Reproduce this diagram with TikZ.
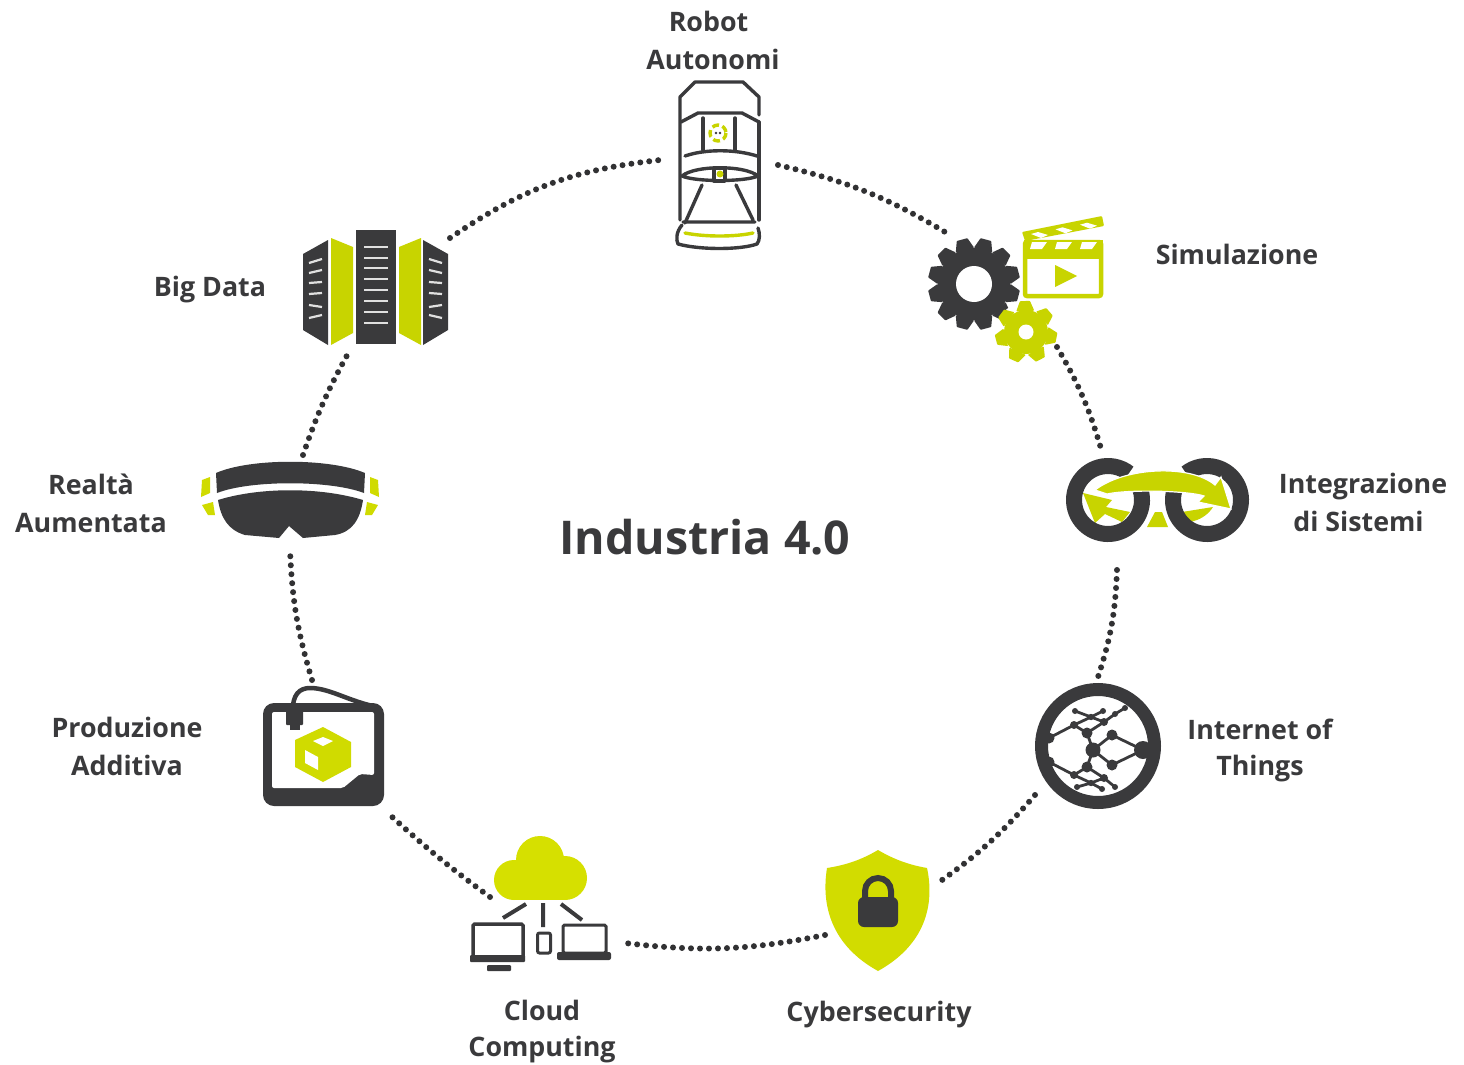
\documentclass[tikz,border=0pt]{standalone}
\usepackage{fontspec}
\setmainfont{Open Sans}
\definecolor{ink}{HTML}{3A3A3C}
\definecolor{lime}{HTML}{C8D400}
\definecolor{limeb}{HTML}{D6E000}
\tikzset{
 lbl/.style={font=\fontsize{26.8}{38}\selectfont\bfseries,text=ink,align=center,inner sep=0pt},
 ringdots/.style={line width=6pt,line cap=round,dash pattern=on 0pt off 9pt,draw=ink!85!black},
 dk/.style={draw=ink,line width=3.4pt,line cap=round,line join=round},
 ly/.style={draw=lime,line width=3.4pt,line cap=round,line join=round},
 iotl/.style={draw=ink,line width=2.8pt}
}
\newcommand\gearshape[9]{% cx cy outer root teeth rot halfroot halftip color
 \begin{scope}[shift={(#1,#2)}]
 \fill[#9] (0,0) circle (#4);
 \foreach \ti in {1,...,#5}{
  \fill[#9,rounded corners=0.7pt,rotate=\ti*360/#5+#6] (-#7,-#4+1) -- (-#8,-#3) -- (#8,-#3) -- (#7,-#4+1) -- cycle;
 }
 \end{scope}}
\begin{document}
\begin{tikzpicture}[x=1pt,y=-1pt]
\useasboundingbox (0,0) rectangle (1464,1065);
\fill[white] (0,0) rectangle (1464,1065);

% ---- ring connector ends
\coordinate (a1) at (450,238); \coordinate (b1) at (660,160);
\coordinate (a2) at (778,165); \coordinate (b2) at (950,235);
\coordinate (a3) at (1057,347); \coordinate (b3) at (1102,452);
\coordinate (a4) at (1117,570); \coordinate (b4) at (1097,680);
\coordinate (a5) at (1035,795); \coordinate (b5) at (935,885);
\coordinate (a6) at (825,935); \coordinate (b6) at (625,943);
\coordinate (a7) at (490,897); \coordinate (b7) at (390,815);
\coordinate (a8) at (312,680); \coordinate (b8) at (290,550);
\coordinate (a9) at (303,455); \coordinate (b9) at (350,350);
\draw[ringdots] (a1) to[bend left=14] (b1);
\draw[ringdots] (a2) to[bend left=9] (b2);
\draw[ringdots] (a3) to[bend left=7] (b3);
\draw[ringdots] (a4) to[bend left=8] (b4);
\draw[ringdots] (a5) to[bend left=7] (b5);
\draw[ringdots] (a6) to[bend left=9] (b6);
\draw[ringdots] (a7) to[bend left=3] (b7);
\draw[ringdots] (a8) to[bend left=7] (b8);
\draw[ringdots] (a9) to[bend left=5] (b9);

% ---- robot car
\draw[dk] (759,115) -- (759,97) -- (743,82) -- (695,82) -- (680,97) -- (680,220);
\draw[dk] (759,122) -- (759,220);
\draw[dk] (681,122) -- (698,113) -- (742,113) -- (759,122);
\draw[dk] (703,118) -- (703,150) (735,118) -- (735,150);
\draw[dk] (685,156) .. controls (705,149) and (735,149) .. (757,156);
\draw[dk] (682,176) .. controls (695,165) and (745,165) .. (758,176) .. controls (745,182) and (695,182) .. cycle;
\draw[dk,fill=white] (714,168) rectangle (725,181);
\fill[lime] (720,174) circle (3.5);
\draw[dk] (702,185) -- (685,223) (736,185) -- (753,220) (683,222) -- (755,222);
\draw[dk] (682,225) .. controls (676,232) and (676,240) .. (678,244) .. controls (700,250) and (740,250) .. (757,244) .. controls (760,240) and (760,234) .. (758,228);
\draw[ly] (685,233) .. controls (705,237) and (735,237) .. (753,233);
\draw[lime,line width=3.4pt,dash pattern=on 7pt off 3.5pt] (718,133) circle (8);
\fill[ink] (716,133) circle (1.4) (720,133) circle (1.4);

% ---- gears and clapperboard
\gearshape{974}{284}{46}{36}{12}{15}{9.5}{5.5}{ink}
\fill[white] (974,284) circle (18);
\fill[white] (1026,332) circle (30);
\gearshape{1026}{332}{31}{22}{7}{2}{9}{5}{lime}
\fill[white] (1026,332) circle (7.5);
\draw[lime,line width=4.5pt,rounded corners=2pt] (1025,242) rectangle (1101,296);
\fill[lime] (1024,240) rectangle (1103,259);
\fill[lime,rounded corners=1pt] (1022,232) -- (1102,216) -- (1104,226) -- (1025,241) -- cycle;
\foreach \sx in {0,25,50}{
 \fill[white] (1032+\sx,242) -- (1047+\sx,242) -- (1042+\sx,249) -- (1030+\sx,249) -- cycle;
}
\foreach \sx in {0,24.5,49}{
 \fill[white] (1031+\sx,234-\sx*0.19) -- (1038+\sx,232-\sx*0.19) -- (1048+\sx,235-\sx*0.19) -- (1041+\sx,238-\sx*0.19) -- cycle;
}
\fill[lime] (1055,265) -- (1077,276) -- (1055,287) -- cycle;

% ---- integration
\fill[lime] (1155,512) -- (1162,512) -- (1168,527) -- (1147,527) -- cycle;
\fill[lime] (1083,493) -- (1112,500) -- (1106,507) -- (1130,512) -- (1122,522) -- (1105,514) -- (1095,523) -- cycle;
\fill[lime] (1182,512) -- (1213,507) .. controls (1208,515) and (1200,520) .. (1190,522) -- cycle;
\draw[ink,line width=16pt] (1108,500) ++(-16:34) arc[start angle=-16,end angle=308,radius=34];
\draw[ink,line width=16pt] (1207,500) ++(196:34) arc[start angle=196,end angle=-128,radius=34];
\fill[lime,draw=white,line width=1.2pt] (1095,490) .. controls (1125,467) and (1190,464) .. (1215,485) -- (1221,477) -- (1231,509) -- (1198,502) -- (1204,496) .. controls (1190,491) and (1130,489) .. (1107,494) -- cycle;

% ---- IoT
\draw[ink,line width=13pt] (1098,746) circle (56.5);
\draw[iotl] (1143,750) -- (1112,735) -- (1093,750) -- (1087,733) -- (1104,722);
\draw[iotl] (1143,750) -- (1112,765) -- (1093,750) -- (1087,767) -- (1104,778);
\draw[iotl] (1087,733) -- (1074,725) -- (1049,738);
\draw[iotl] (1087,767) -- (1074,775) -- (1049,762);
\draw[iotl] (1104,722) -- (1091,717) -- (1075,711);
\draw[iotl] (1091,717) -- (1103,711);
\draw[iotl] (1104,722) -- (1115,714) -- (1125,708);
\draw[iotl] (1074,725) -- (1091,717);
\draw[iotl] (1104,778) -- (1091,783) -- (1077,787);
\draw[iotl] (1091,783) -- (1102,789);
\draw[iotl] (1104,778) -- (1115,787);
\draw[iotl] (1074,775) -- (1091,783);
\fill[ink] (1143,750) circle (9) (1112,735) circle (5.5) (1112,765) circle (5.5) (1093,750) circle (7.5)
 (1087,733) circle (5.5) (1087,767) circle (5.5) (1074,725) circle (4) (1074,775) circle (4)
 (1049,738) circle (5.5) (1049,762) circle (5.5) (1104,722) circle (4) (1104,778) circle (4)
 (1091,717) circle (3.2) (1091,783) circle (3.2) (1075,711) circle (3) (1103,711) circle (3)
 (1115,714) circle (3) (1125,708) circle (3) (1077,787) circle (3) (1102,789) circle (3) (1115,787) circle (3);

% ---- shield
\fill[limeb!70!lime] (878,850) .. controls (895,860) and (910,865) .. (927,868) .. controls (935,905) and (925,945) .. (878,971) .. controls (831,945) and (821,905) .. (827,868) .. controls (846,865) and (861,860) .. (878,850) -- cycle;
\draw[ink,line width=6pt] (865,898) -- (865,891) arc[start angle=180,end angle=360,radius=13] -- (891,898);
\fill[ink,rounded corners=6pt] (858,897) rectangle (898,927);

% ---- cloud
\fill[limeb] (540,860) circle (24);
\fill[limeb] (514,880) circle (20);
\fill[limeb] (565,878) circle (22);
\fill[limeb] (514,870) rectangle (565,900);
\draw[ink,line width=4pt] (543,903) -- (543,927) (526,904) -- (503,918) (561,904) -- (582,920);
\draw[ink,line width=3.5pt,rounded corners=1.5pt] (473,924) rectangle (523,958);
\fill[ink,rounded corners=1pt] (470,955) rectangle (525,962);
\fill[ink,rounded corners=1pt] (487,965) rectangle (511,971);
\draw[ink,line width=3pt,rounded corners=2pt] (537.5,933) rectangle (550.5,953);
\draw[ink,line width=3pt,rounded corners=1.5pt] (563,925) rectangle (606,953);
\fill[ink,rounded corners=2pt] (557,952) -- (575,952) -- (577,954) -- (590,954) -- (592,952) -- (611,952) -- (611,960) -- (557,960) -- cycle;

% ---- 3D printer
\fill[ink,rounded corners=11pt] (263,703) rectangle (384,806);
\fill[white,rounded corners=2pt] (272,712) -- (374,712) -- (374,775) -- (360,774) -- (343,788) -- (272,788) -- cycle;
\draw[ink,line width=4.5pt] (293,712) .. controls (292,694) and (300,688) .. (310,688) .. controls (330,688) and (350,702) .. (378,707);
\fill[ink,rounded corners=1pt] (286,708) rectangle (303,725);
\fill[ink] (290,725) rectangle (300,730);
\fill[limeb!60!lime,line join=round] (323,727) -- (351,742) -- (351,767) -- (323,782) -- (295,767) -- (295,740) -- cycle;
\fill[white] (323,737) -- (333,741) -- (323,746) -- (313,741) -- cycle;
\fill[white] (305,750) -- (318,757) -- (318,770) -- (305,763) -- cycle;

% ---- AR visor
\fill[ink] (216,473) .. controls (250,458) and (330,458) .. (365,473) -- (364,493) .. controls (330,480) and (250,480) .. (217,493) -- cycle;
\fill[ink] (218,500) .. controls (260,487) and (320,487) .. (363,500) .. controls (360,520) and (352,532) .. (335,535) -- (303,538) -- (289,526) -- (279,538) -- (245,535) .. controls (228,530) and (221,518) .. cycle;
\fill[limeb!60!lime] (202,480) -- (210,477) -- (210,493) -- (201,497) -- cycle;
\fill[limeb!60!lime] (202,505) -- (213,502) -- (215,515) -- (208,515) -- cycle;
\fill[limeb!60!lime] (378,480) -- (370,477) -- (370,493) -- (379,497) -- cycle;
\fill[limeb!60!lime] (378,505) -- (367,502) -- (365,515) -- (372,515) -- cycle;

% ---- servers
\fill[ink] (356,230) rectangle (396,344);
\fill[ink] (303,254) -- (328,240) -- (328,345) -- (303,330) -- cycle;
\fill[ink] (423,240) -- (448,254) -- (448,330) -- (423,345) -- cycle;
\fill[lime] (331,238) -- (353,247) -- (353,333) -- (331,345) -- cycle;
\fill[lime] (399,247) -- (421,238) -- (421,345) -- (399,333) -- cycle;
\draw[white!88!black,line width=2.2pt] \foreach \yy in {247,258,268,279,290,301,312,323}{(364,\yy) -- (388,\yy)};
\draw[white!88!black,line width=2.2pt] (309,263) -- (322,259) (309,273) -- (322,270) (309,283) -- (322,282) (309,294) -- (322,293) (309,305) -- (322,307) (309,318) -- (322,315);
\draw[white!88!black,line width=2.2pt] (442,263) -- (429,259) (442,273) -- (429,270) (442,283) -- (429,282) (442,294) -- (429,293) (442,305) -- (429,307) (442,318) -- (429,315);

% ---- labels
\node[lbl] (lrobot) at (713,40) {Robot\hspace*{9pt}\\Autonomi};
\node[lbl] (lsim) at (1237,254) {Simulazione};
\node[lbl] (lint) at (1363,502) {Integrazione\\di Sistemi\hspace*{9pt}};
\node[lbl] (liot) at (1260,750) {Internet of\\[-2pt]Things};
\node[lbl] (lcyb) at (879,1015) {Cybersecurity};
\node[lbl] (lcloud) at (542,1032) {Cloud\\[-2pt]Computing};
\node[lbl] (lprod) at (127,746) {Produzione\\Additiva};
\node[lbl] (lreal) at (91,503) {Realtà\\Aumentata};
\node[lbl] (lbig) at (210,290) {Big Data};
\node[lbl,font=\fontsize{46.5}{50}\selectfont\bfseries] (ltitle) at (705,537) {Industria 4.0};
\end{tikzpicture}
\end{document}
